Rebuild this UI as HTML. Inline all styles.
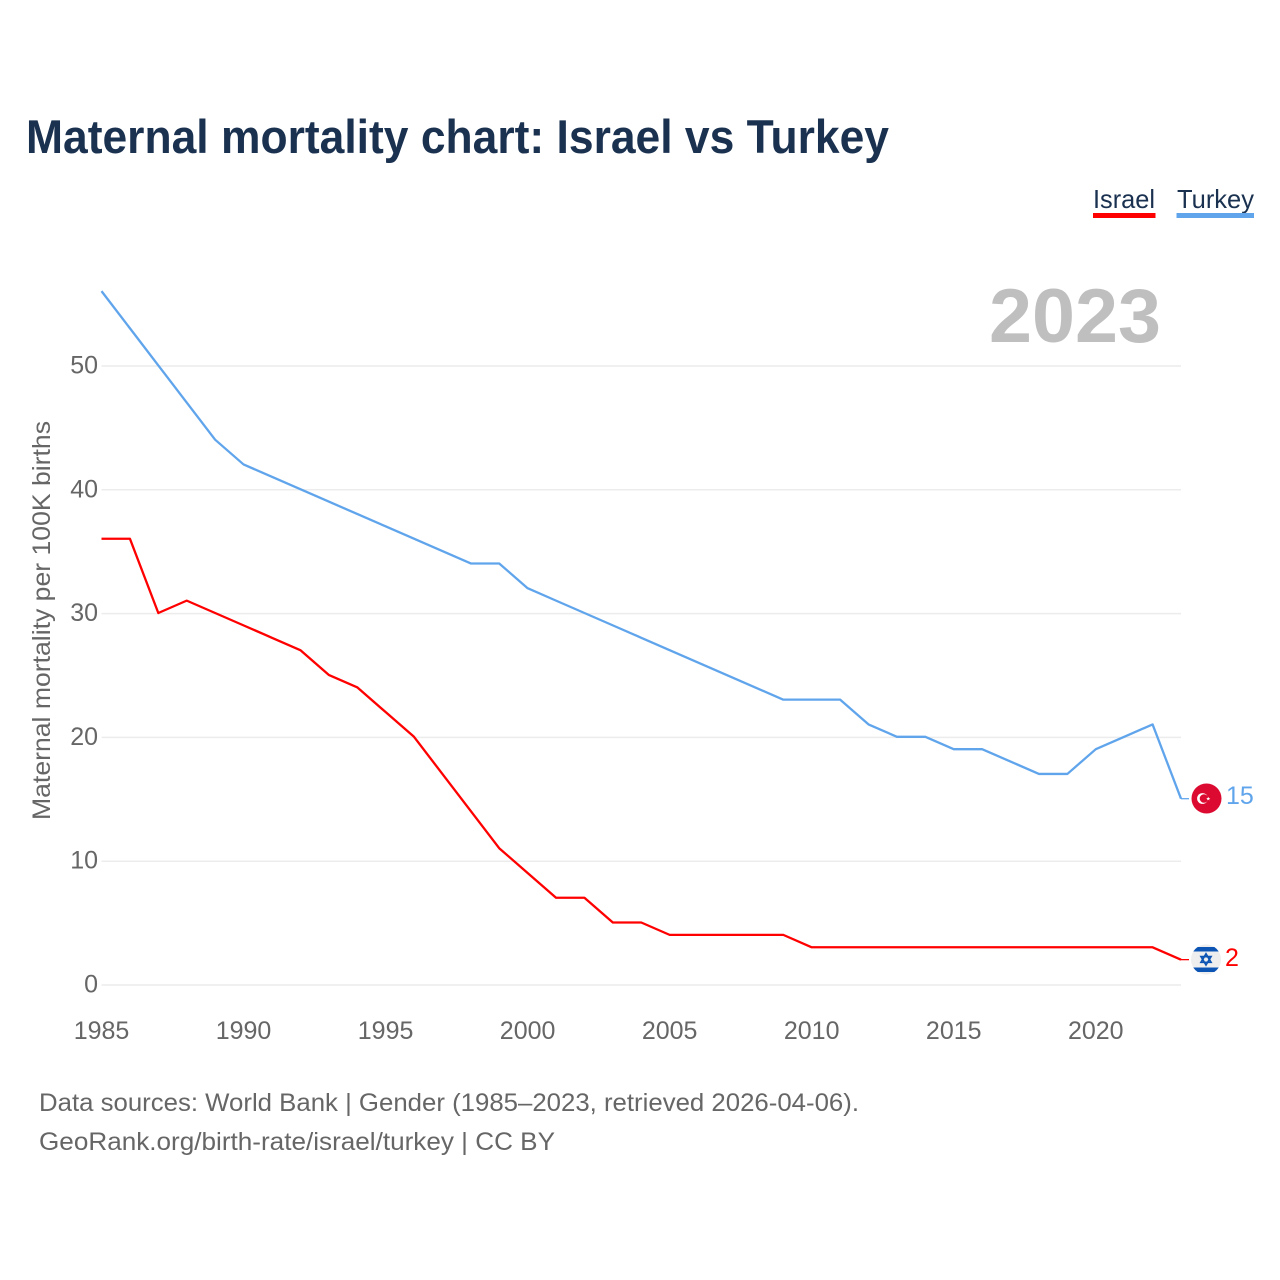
<!DOCTYPE html>
<html>
<head>
<meta charset="utf-8">
<title>Maternal mortality chart: Israel vs Turkey</title>
<style>
html,body{margin:0;padding:0;background:#fff;width:1280px;height:1280px;overflow:hidden}
svg{display:block}
text{font-family:"Liberation Sans",sans-serif}
</style>
</head>
<body>
<svg id="chart" xmlns="http://www.w3.org/2000/svg" width="1280" height="1280" viewBox="0 0 1280 1280">
  <text x="26" y="153" font-size="47" font-weight="700" fill="#1a3150" textLength="863" lengthAdjust="spacingAndGlyphs">Maternal mortality chart: Israel vs Turkey</text>

  <g>
    <g>
      <text x="1093" y="208" font-size="26" fill="#1a3150" textLength="62" lengthAdjust="spacingAndGlyphs">Israel</text>
      <rect x="1093" y="213" width="62.5" height="5" fill="#ff0000"/>
    </g>
    <g>
      <text x="1177" y="208" font-size="26" fill="#1a3150" textLength="77" lengthAdjust="spacingAndGlyphs">Turkey</text>
      <rect x="1176.500" y="213" width="77.500" height="5" fill="#60a5ec"/>
    </g>
  </g>

  <text transform="translate(50,620.500) rotate(-90)" text-anchor="middle" font-size="25" fill="#666666" textLength="399" lengthAdjust="spacingAndGlyphs">Maternal mortality per 100K births</text>

  <g id="grid"></g>
  <g id="yticks"></g>
  <g id="xticks"></g>

  <text x="989" y="342" font-size="76" font-weight="700" fill="#bfbfbf" textLength="172" lengthAdjust="spacingAndGlyphs">2023</text>

  <g id="series" transform="translate(0,-0.6)"></g>

  <g id="flag-turkey">
    <circle cx="1206.500" cy="798.500" r="15" fill="#dc0a30"/>
    <circle cx="1202.500" cy="798.500" r="5.400" fill="#ffffff"/>
    <circle cx="1204" cy="798.500" r="4.300" fill="#dc0a30"/>
    <polygon points="1208.200,796.700 1208.800,798 1210.300,798.100 1209.100,799 1209.500,800.400 1208.200,799.600 1207,800.400 1207.400,799 1206.200,798.100 1207.700,798" fill="#ffffff"/>
  </g>
  <g id="flag-israel">
    <clipPath id="israel-clip"><circle cx="1206" cy="959.500" r="15"/></clipPath>
    <circle cx="1206" cy="959.500" r="15" fill="#eeeeee"/>
    <g clip-path="url(#israel-clip)">
      <rect x="1191" y="947" width="30" height="4.500" fill="#0d55b5"/>
      <rect x="1191" y="967.500" width="30" height="4.500" fill="#0d55b5"/>
    </g>
    <polygon points="1206,953.800 1211,962.300 1201,962.300" fill="none" stroke="#0d55b5" stroke-width="1.700"/>
    <polygon points="1206,965 1211,956.600 1201,956.600" fill="none" stroke="#0d55b5" stroke-width="1.700"/>
  </g>

  <text x="1226" y="804" font-size="25" fill="#60a5ec">15</text>
  <text x="1225" y="966" font-size="25" fill="#ff0000">2</text>

  <text x="39" y="1111" font-size="25" fill="#666666" textLength="820" lengthAdjust="spacingAndGlyphs">Data sources: World Bank | Gender (1985–2023, retrieved 2026-04-06).</text>
  <text x="39" y="1150" font-size="25" fill="#666666" textLength="516" lengthAdjust="spacingAndGlyphs">GeoRank.org/birth-rate/israel/turkey | CC BY</text>
</svg>
<script>
const years = [1985,1986,1987,1988,1989,1990,1991,1992,1993,1994,1995,1996,1997,1998,1999,2000,2001,2002,2003,2004,2005,2006,2007,2008,2009,2010,2011,2012,2013,2014,2015,2016,2017,2018,2019,2020,2021,2022,2023];
const israelValues = [36,36,30,31,30,29,28,27,25,24,22,20,17,14,11,9,7,7,5,5,4,4,4,4,4,3,3,3,3,3,3,3,3,3,3,3,3,3,2];
const turkeyValues = [56,53,50,47,44,42,41,40,39,38,37,36,35,34,34,32,31,30,29,28,27,26,25,24,23,23,23,21,20,20,19,19,18,17,17,19,20,21,15];
const yTickLabels = [0,10,20,30,40,50];
const xTickLabels = [1985,1990,1995,2000,2005,2010,2015,2020];

const NS = 'http://www.w3.org/2000/svg';
const plotLeft = 101.5, plotRight = 1181, plotBottom = 985, plotTopValue = 366;
function xScale(year){ return plotLeft + (year - 1985) * (plotRight - plotLeft) / (2023 - 1985); }
function yScale(value){ return plotBottom - value * (plotBottom - plotTopValue) / 50; }

const grid = document.getElementById('grid');
const yticks = document.getElementById('yticks');
const xticks = document.getElementById('xticks');
const series = document.getElementById('series');

yTickLabels.forEach(function(v){
  const l = document.createElementNS(NS, 'line');
  
  
  l.setAttribute('x1', plotLeft);
  l.setAttribute('x2', plotRight);
  l.setAttribute('y1', yScale(v));
  l.setAttribute('y2', yScale(v));
  l.setAttribute('stroke', '#ececec');
  l.setAttribute('stroke-width', '1.5');
  grid.appendChild(l);

  const t = document.createElementNS(NS, 'text');
  
  
  t.setAttribute('x', 98);
  t.setAttribute('y', yScale(v) + 7.5);
  t.setAttribute('text-anchor', 'end');
  t.setAttribute('font-size', '25');
  t.setAttribute('fill', '#666666');
  t.textContent = v;
  yticks.appendChild(t);
});

xTickLabels.forEach(function(y){
  const t = document.createElementNS(NS, 'text');
  
  
  t.setAttribute('x', xScale(y));
  t.setAttribute('y', 1039);
  t.setAttribute('text-anchor', 'middle');
  t.setAttribute('font-size', '25');
  t.setAttribute('fill', '#666666');
  t.textContent = y;
  xticks.appendChild(t);
});

function pathFor(values){
  return values.map(function(v, i){
    return (i ? 'L' : 'M') + xScale(years[i]).toFixed(2) + ' ' + yScale(v).toFixed(2);
  }).join(' ');
}

const turkeyLine = document.createElementNS(NS, 'path');


turkeyLine.setAttribute('d', pathFor(turkeyValues));
turkeyLine.setAttribute('fill', 'none');
turkeyLine.setAttribute('stroke', '#60a5ec');
turkeyLine.setAttribute('stroke-width', '2.3');
turkeyLine.setAttribute('stroke-linejoin', 'round');
series.appendChild(turkeyLine);

const israelLine = document.createElementNS(NS, 'path');


israelLine.setAttribute('d', pathFor(israelValues));
israelLine.setAttribute('fill', 'none');
israelLine.setAttribute('stroke', '#ff0000');
israelLine.setAttribute('stroke-width', '2.3');
israelLine.setAttribute('stroke-linejoin', 'round');
series.appendChild(israelLine);

const turkeyLeader = document.createElementNS(NS, 'line');


turkeyLeader.setAttribute('x1', xScale(2023));
turkeyLeader.setAttribute('x2', xScale(2023) + 8);
turkeyLeader.setAttribute('y1', yScale(turkeyValues[turkeyValues.length - 1]));
turkeyLeader.setAttribute('y2', yScale(turkeyValues[turkeyValues.length - 1]));
turkeyLeader.setAttribute('stroke', '#60a5ec');
turkeyLeader.setAttribute('stroke-width', '1.3');
series.appendChild(turkeyLeader);

const israelLeader = document.createElementNS(NS, 'line');


israelLeader.setAttribute('x1', xScale(2023));
israelLeader.setAttribute('x2', xScale(2023) + 8);
israelLeader.setAttribute('y1', yScale(israelValues[israelValues.length - 1]));
israelLeader.setAttribute('y2', yScale(israelValues[israelValues.length - 1]));
israelLeader.setAttribute('stroke', '#ff0000');
israelLeader.setAttribute('stroke-width', '1.3');
series.appendChild(israelLeader);
</script>
</body>
</html>
